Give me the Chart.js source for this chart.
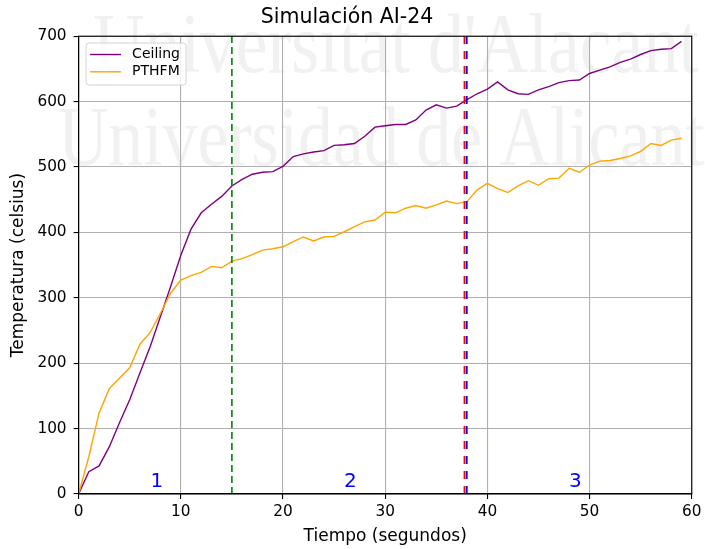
<!DOCTYPE html>
<html>
<head>
<meta charset="utf-8">
<script src="https://cdn.jsdelivr.net/npm/chart.js@4"></script>
<style>
  html, body { margin: 0; padding: 0; background: #fff; }
  #wrap { width: 705px; height: 549px; }
</style>
</head>
<body>
<div id="wrap"><canvas id="lineChart" width="705" height="549"></canvas></div>
<script>
// tiempo en segundos
var times = [];
for (var i = 0; i < 60; i++) times.push(i);

var ceiling = [0, 34, 43, 72, 109, 144, 185, 225, 271, 317,
    365, 405, 430, 443, 455, 471, 481, 489, 492, 493,
    501, 516, 520, 523, 525, 533, 534, 536, 547, 561,
    563, 565, 565, 572, 587, 595, 590, 593, 603, 612,
    619, 630, 618, 612, 611, 618, 623, 629, 632, 633,
    643, 648, 653, 660, 665, 672, 678, 680, 681, 692];

var pthfm = [0, 57, 124, 161, 177, 193, 229, 247, 276, 307,
    327, 334, 339, 348, 346, 356, 360, 366, 373, 375,
    378, 386, 393, 387, 393, 394, 401, 409, 416, 419,
    431, 430, 437, 441, 437, 442, 448, 444, 447, 465,
    475, 467, 461, 471, 479, 472, 482, 483, 498, 492,
    503, 509, 510, 513, 517, 524, 536, 533, 541, 544];

// lineas verticales de cambio de fase
var phaseLines = [15, 37.76, 37.98];
var phaseColors = ['green', 'red', 'blue'];

// etiquetas de zona
var zoneLabels = ['1', '2', '3'];
var zoneX = [7.65, 26.6, 48.6];
var zoneY = 10;

var xTicks = [0, 10, 20, 30, 40, 50, 60];
var yTicks = [0, 100, 200, 300, 400, 500, 600, 700];

var watermark = ["Universitat d'Alacant", "Universidad de Alicante"];

function pts(ys) {
    return times.map(function (t, i) { return { x: t, y: ys[i] }; });
}

function vline(x) {
    return [{ x: x, y: yTicks[0] }, { x: x, y: yTicks[yTicks.length - 1] }];
}

var datasets = [
    { label: 'Ceiling', data: pts(ceiling), borderColor: '#800080', borderWidth: 1.4, order: 3 },
    { label: 'PTHFM', data: pts(pthfm), borderColor: '#ffa500', borderWidth: 1.4, order: 2 },
    { label: '', guide: true, data: vline(phaseLines[0]), borderColor: phaseColors[0], borderWidth: 1.6, borderDash: [7, 4], order: 1 },
    { label: '', guide: true, data: vline(phaseLines[1]), borderColor: phaseColors[1], borderWidth: 1.8, borderDash: [8, 7], order: 1 },
    { label: '', guide: true, data: vline(phaseLines[2]), borderColor: phaseColors[2], borderWidth: 1.8, borderDash: [8, 7], order: 0 }
];
datasets.forEach(function (d) {
    d.pointRadius = 0;
    d.tension = 0;
    d.fill = false;
});

var FONT = 'DejaVu Sans';

function wmLine(ctx, text, x, y, sx) {
    ctx.save();
    ctx.scale(sx, 1);
    ctx.fillText(text, x / sx, y);
    ctx.restore();
}

var decor = {
    id: 'decor',
    beforeDraw: function (chart) {
        var ctx = chart.ctx;
        ctx.save();
        ctx.fillStyle = '#fff';
        ctx.fillRect(0, 0, chart.width, chart.height);
        // marca de agua
        ctx.fillStyle = '#f1f1f1';
        ctx.font = '84px "Liberation Serif"';
        ctx.textBaseline = 'alphabetic';
        ctx.textAlign = 'left';
        wmLine(ctx, watermark[0], 93, 72, 0.85);
        wmLine(ctx, watermark[1], 58, 165, 0.83);
        ctx.restore();
    },
    afterDatasetsDraw: function (chart) {
        var ctx = chart.ctx, xs = chart.scales.x, ys = chart.scales.y;
        ctx.save();
        ctx.fillStyle = 'blue';
        ctx.font = '20px "' + FONT + '"';
        ctx.textAlign = 'center';
        ctx.textBaseline = 'alphabetic';
        zoneLabels.forEach(function (s, i) {
            ctx.fillText(s, xs.getPixelForValue(zoneX[i]), ys.getPixelForValue(zoneY));
        });
        ctx.restore();
    },
    afterDraw: function (chart) {
        var ctx = chart.ctx, a = chart.chartArea;
        ctx.save();
        // marco de los ejes
        ctx.strokeStyle = '#000';
        ctx.lineWidth = 1.1;
        ctx.strokeRect(a.left, a.top, a.right - a.left, a.bottom - a.top);

        // leyenda
        var series = chart.data.datasets.filter(function (d) { return !d.guide; });
        var lx = a.left + 7.5, ly = a.top + 6.8, lw = 100, lh = 42;
        ctx.beginPath();
        ctx.roundRect(lx, ly, lw, lh, 3);
        ctx.fillStyle = 'rgba(255,255,255,0.8)';
        ctx.fill();
        ctx.strokeStyle = '#d4d4d4';
        ctx.lineWidth = 1;
        ctx.stroke();
        ctx.font = '14px "' + FONT + '"';
        ctx.textBaseline = 'middle';
        ctx.textAlign = 'left';
        series.forEach(function (d, i) {
            var y = ly + 11.5 + i * 17.3;
            ctx.beginPath();
            ctx.moveTo(lx + 4, y);
            ctx.lineTo(lx + 35, y);
            ctx.strokeStyle = d.borderColor;
            ctx.lineWidth = 1.4;
            ctx.stroke();
            ctx.fillStyle = '#000';
            ctx.fillText(d.label, lx + 46, y);
        });
        ctx.restore();
    }
};

var config = {
    type: 'line',
    data: { datasets: datasets },
    options: {
        responsive: false,
        animation: false,
        layout: { padding: { left: 0, right: 11, top: 0, bottom: 0 } },
        plugins: {
            legend: { display: false },
            tooltip: { enabled: false },
            title: {
                display: true,
                text: 'Simulación AI-24',
                color: '#000',
                font: { family: FONT, size: 20.5, weight: 'normal', lineHeight: 1.2 },
                padding: { top: 5.7, bottom: 5.9 }
            }
        },
        scales: {
            x: {
                type: 'linear',
                min: 0, max: 60,
                afterBuildTicks: function (s) { s.ticks = xTicks.map(function (v) { return { value: v }; }); },
                afterFit: function (s) { s.height = 55; },
                ticks: { color: '#000', font: { family: FONT, size: 15.3 }, padding: 3.5, maxRotation: 0 },
                grid: { color: '#b0b0b0', lineWidth: 1.1, tickColor: '#000', tickLength: 5, tickWidth: 1.1 },
                border: { color: '#000', width: 1.1 },
                title: {
                    display: true, text: 'Tiempo (segundos)', color: '#000',
                    font: { family: FONT, size: 17, lineHeight: 1.2 },
                    padding: { top: 0, bottom: 1.8 }
                }
            },
            y: {
                min: 0, max: 700,
                afterBuildTicks: function (s) { s.ticks = yTicks.map(function (v) { return { value: v }; }); },
                afterFit: function (s) { s.width = 78.6; },
                ticks: { color: '#000', font: { family: FONT, size: 15.3 }, padding: 7 },
                grid: { color: '#b0b0b0', lineWidth: 1.1, tickColor: '#000', tickLength: 5, tickWidth: 1.1 },
                border: { color: '#000', width: 1.1 },
                title: {
                    display: true, text: 'Temperatura (celsius)', color: '#000',
                    font: { family: FONT, size: 17, lineHeight: 1.2 },
                    padding: { top: 8.3, bottom: 0 }
                }
            }
        }
    },
    plugins: [decor]
};

var lineChart = new Chart(document.getElementById('lineChart'), config);
</script>
</body>
</html>
